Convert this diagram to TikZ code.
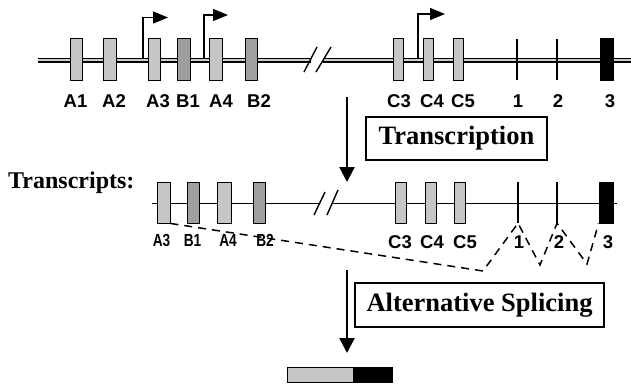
\documentclass[tikz,border=0pt]{standalone}
\usepackage{fontspec}
\setmainfont{Liberation Serif}
\setsansfont{Liberation Sans}
\usetikzlibrary{arrows.meta}
\newcommand{\squeezed}[1]{\scalebox{0.78}[1]{#1}}

\begin{document}
\begin{tikzpicture}[x=1pt,y=-1pt,
  exonbox/.style={draw=black, line width=0.9pt, inner sep=0pt, minimum height=42pt},
  exA/.style={exonbox, fill=gray!45},
  exB/.style={exonbox, fill=gray!75},
  exK/.style={exonbox, fill=black},
  exbar/.style={fill=black, inner sep=0pt, minimum width=2.6pt, minimum height=41pt},
  lab/.style={font=\sffamily\bfseries\fontsize{18.5}{18.5}\selectfont, inner sep=0pt, anchor=base},
  nlab/.style={font=\sffamily\bfseries\fontsize{17.5}{17.5}\selectfont, inner sep=0pt, anchor=base},
  promoter/.style={line width=1.4pt, -{Triangle[length=15pt,width=12pt]}},
  flow/.style={line width=2.4pt, -{Triangle[length=15pt,width=15pt]}},
  slash/.style={line width=1.4pt},
  titlebox/.style={font=\bfseries\fontsize{26.5}{26.5}\selectfont, draw, line width=1.1pt, inner sep=0pt},
  splice/.style={line width=1.5pt, dash pattern=on 8pt off 6pt},
]
\useasboundingbox (0,0) rectangle (631,383);

% ---------- genomic locus ----------
\coordinate (g0) at (38,60);
\coordinate (g1) at (310.5,60);
\coordinate (g2) at (323,60);
\coordinate (g3) at (631,60);
\foreach \s/\e in {g0/g1, g2/g3} {
  \draw[line width=5pt] (\s) -- (\e);
  \draw[line width=2.4pt, gray!40] (\s) -- (\e);
}
% break marks
\coordinate (k1a) at (304,72); \coordinate (k1b) at (317,47);
\coordinate (k2a) at (316,72); \coordinate (k2b) at (331,47);
\draw[slash] (k1a) -- (k1b);
\draw[slash] (k2a) -- (k2b);

% exons
\node[exA, minimum width=12pt] (a1) at (76,59) {};
\node[exA, minimum width=13pt] (a2) at (109.5,59) {};
\node[exA, minimum width=12pt] (a3) at (154,59) {};
\node[exB, minimum width=13pt] (b1) at (183.5,59) {};
\node[exA, minimum width=13pt] (a4) at (215.5,59) {};
\node[exB, minimum width=12pt] (b2) at (251,59) {};
\node[exA, minimum width=10pt] (c3) at (398,59) {};
\node[exA, minimum width=10pt] (c4) at (428,59) {};
\node[exA, minimum width=10pt] (c5) at (458,59) {};
\node[exbar] (e1) at (517,59.5) {};
\node[exbar] (e2) at (557,59.5) {};
\node[exK, minimum width=13pt] (e3) at (606.5,59) {};

% promoters
\coordinate (p1) at (143,57.5); \coordinate (p1e) at (168,17.5);
\coordinate (p2) at (204,57.5); \coordinate (p2e) at (228,15);
\coordinate (p3) at (418,57.5); \coordinate (p3e) at (445,14);
\draw[promoter] (p1) |- (p1e);
\draw[promoter] (p2) |- (p2e);
\draw[promoter] (p3) |- (p3e);

% labels
\node[lab] (la1) at (75.5,107) {A1};
\node[lab] (la2) at (114,107) {A2};
\node[lab] (la3) at (158,107) {A3};
\node[lab] (lb1) at (188,107) {B1};
\node[lab] (la4) at (221,107) {A4};
\node[lab] (lb2) at (259,107) {B2};
\node[lab] (lc3) at (399,107) {C3};
\node[lab] (lc4) at (432,107) {C4};
\node[lab] (lc5) at (463,107) {C5};
\node[lab] (l1) at (518,107) {1};
\node[lab] (l2) at (558,107) {2};
\node[lab] (l3) at (610,107) {3};

% ---------- transcription ----------
\coordinate (f1s) at (347,97);
\coordinate (f1e) at (347,182);
\draw[flow] (f1s) -- (f1e);
\node[titlebox, minimum width=181pt, minimum height=43pt] (tr) at (456.5,138.5) {Transcription};

% ---------- transcripts ----------
\node[font=\bfseries\fontsize{24}{24}\selectfont, inner sep=0pt, anchor=base west] (tlab) at (8,188) {Transcripts:};

\coordinate (t0) at (152,203);
\coordinate (t1) at (319.5,203);
\coordinate (t2) at (332.5,203);
\coordinate (t3) at (617,203);
\draw[line width=1pt] (t0) -- (t1);
\draw[line width=1pt] (t2) -- (t3);
\coordinate (m1a) at (314,215); \coordinate (m1b) at (325,192);
\coordinate (m2a) at (327,215); \coordinate (m2b) at (338,190);
\draw[slash] (m1a) -- (m1b);
\draw[slash] (m2a) -- (m2b);

\node[exA, minimum width=13pt, minimum height=41pt] (ta3) at (163.5,202.5) {};
\node[exB, minimum width=12pt, minimum height=41pt] (tb1) at (193,202.5) {};
\node[exA, minimum width=14pt, minimum height=41pt] (ta4) at (224,202.5) {};
\node[exB, minimum width=12pt, minimum height=41pt] (tb2) at (259,202.5) {};
\node[exA, minimum width=11pt, minimum height=41pt] (tc3) at (400.5,202.5) {};
\node[exA, minimum width=11pt, minimum height=41pt] (tc4) at (430.5,202.5) {};
\node[exA, minimum width=11pt, minimum height=41pt] (tc5) at (459.5,202.5) {};
\node[exbar] (te1) at (518,202.5) {};
\node[exbar] (te2) at (557,202.5) {};
\node[exK, minimum width=14pt, minimum height=41pt] (te3) at (606,202.5) {};

\node[nlab] (lta3) at (161.5,246) {\squeezed{A3}};
\node[nlab] (ltb1) at (192.5,246) {\squeezed{B1}};
\node[nlab] (lta4) at (228,246) {\squeezed{A4}};
\node[nlab] (ltb2) at (265,246) {\squeezed{B2}};
\node[lab] (ltc3) at (400,248) {C3};
\node[lab] (ltc4) at (432,248) {C4};
\node[lab] (ltc5) at (465,248) {C5};
\node[lab] (lt1) at (519,248) {1};
\node[lab] (lt2) at (559,248) {2};
\node[lab] (lt3) at (608,248) {3};

% splice junctions
\coordinate (sp0) at (483,271);
\coordinate (sp1) at (540,265);
\coordinate (sp2) at (587,264);
\draw[splice] (ta3.south east) -- (sp0) -- (te1.south) -- (sp1) -- (te2.south) -- (sp2) -- (te3.south west);

% ---------- alternative splicing ----------
\coordinate (f2s) at (347,270);
\coordinate (f2e) at (347,353);
\draw[flow] (f2s) -- (f2e);
\node[titlebox, minimum width=249pt, minimum height=44pt] (as) at (479.5,305) {Alternative Splicing};

% spliced product
\node[draw, fill=gray!45, line width=0.9pt, inner sep=0pt, minimum width=66pt, minimum height=15pt] (prodL) at (320,375) {};
\node[draw, fill=black, line width=0.9pt, inner sep=0pt, minimum width=39pt, minimum height=15pt, anchor=west] (prodR) at (prodL.east) {};
\end{tikzpicture}
\end{document}
